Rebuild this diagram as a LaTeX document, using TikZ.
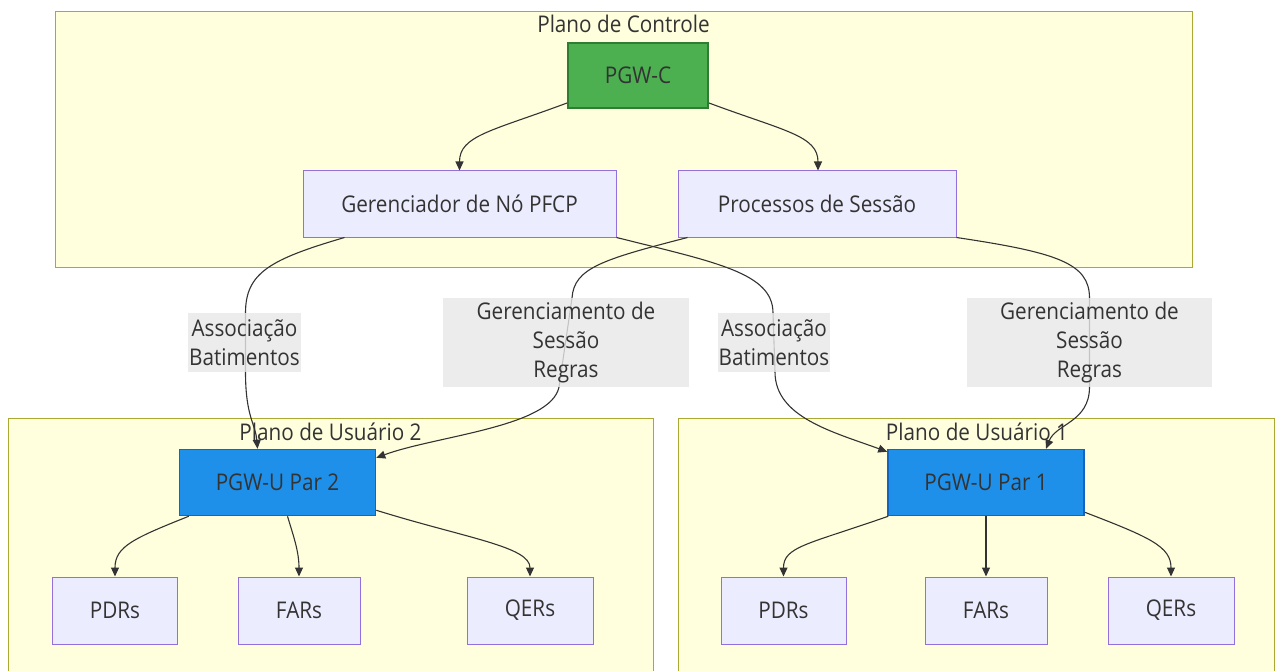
\documentclass[tikz,border=0pt]{standalone}
\usepackage{fontspec}
\setmainfont{Open Sans}[FakeStretch=0.9]
\usetikzlibrary{arrows.meta,calc}
\definecolor{clfill}{HTML}{FFFFDE}
\definecolor{cldraw}{HTML}{AAAA33}
\definecolor{ndfill}{HTML}{ECECFF}
\definecolor{nddraw}{HTML}{9370DB}
\definecolor{txt}{HTML}{333333}
\definecolor{lbl}{HTML}{E8E8E8}
\definecolor{gfill}{HTML}{4CAF50}
\definecolor{gdraw}{HTML}{2E7D32}
\definecolor{bfill}{HTML}{1E90EA}
\definecolor{bdraw}{HTML}{1565C0}
\begin{document}
\begin{tikzpicture}[x=1pt,y=-1pt,
  every node/.style={font=\fontsize{23}{29.3}\selectfont, text=txt, inner sep=0pt},
  cluster/.style={draw=cldraw, fill=clfill, line width=1pt},
  nd/.style={draw=nddraw, fill=ndfill, line width=1pt, minimum height=66pt},
  gnode/.style={draw=gdraw, fill=gfill, line width=2pt, minimum width=140pt, minimum height=65pt},
  bnode/.style={draw=bdraw, fill=bfill, line width=1.5pt, minimum width=196pt, minimum height=66pt},
  elabel/.style={fill=lbl, fill opacity=0.8, text opacity=1, align=center},
  edge/.style={draw=txt, line width=1.1pt, -{Triangle[length=9pt,width=8pt]}}
]
\useasboundingbox (0,0) rectangle (1276,671);
\fill[white] (0,0) rectangle (1276,671);

% clusters
\draw[cluster] (55,12) rectangle (1192,267);
\draw[cluster] (8,418) rectangle (653,673);
\draw[cluster] (678,418) rectangle (1274,673);
\node (tc) at (623.5,24) {Plano de Controle};
\node (tu2) at (330.5,432) {Plano de Usuário 2};
\node (tu1) at (977,432) {Plano de Usuário 1};

% nodes
\node[gnode] (pgwc) at (638,75.5) {PGW-C};
\node[nd, minimum width=313pt] (ger) at (459.5,204) {Gerenciador de Nó PFCP};
\node[nd, minimum width=278pt] (proc) at (817,204) {Processos de Sessão};
\node[bnode] (u2) at (277.5,482.5) {PGW-U Par 2};
\node[bnode] (u1) at (986,482.5) {PGW-U Par 1};
\node[nd, minimum width=125pt, minimum height=67pt] (pdr2) at (115,610.5) {PDRs};
\node[nd, minimum width=122pt, minimum height=67pt] (far2) at (299,610.5) {FARs};
\node[nd, minimum width=126pt, minimum height=67pt] (qer2) at (530,610.5) {QERs};
\node[nd, minimum width=125pt, minimum height=67pt] (pdr1) at (783.5,610.5) {PDRs};
\node[nd, minimum width=122pt, minimum height=67pt] (far1) at (986,610.5) {FARs};
\node[nd, minimum width=126pt, minimum height=67pt] (qer1) at (1171,610.5) {QERs};

% edge label positions
\path (244.5,342.5) coordinate (al2c) (566,342.5) coordinate (gl2c)
      (774,342.5) coordinate (ar1c) (1089.5,342.5) coordinate (gr1c);

% edges
\draw[edge] ($(pgwc.south west)+(0,-6)$) .. controls +(-75,28) and +(0,-35) .. (ger.north);
\draw[edge] ($(pgwc.south east)+(0,-6)$) .. controls +(75,28) and +(0,-35) .. ($(proc.north)+(1,0)$);
\draw[edge] ($(ger.south west)+(42,0)$) .. controls +(-75,22) and +(0,-40) .. ($(al2c)+(1,-29.5)$)
   -- ($(al2c)+(1,29.5)$) .. controls +(0,45) and +(-2,-25) .. ($(u2.north)+(-20,0)$);
\draw[edge] ($(proc.south west)+(10,0)$) .. controls +(-85,22) and +(2,-30) .. ($(gl2c)+(6,-44.5)$)
   -- ($(gl2c)+(-7,44.5)$) .. controls +(-8,40) and +(60,-22) .. ($(u2.north east)+(0,9)$);
\draw[edge] (ger.south east) .. controls +(100,25) and +(0,-40) .. ($(ar1c)+(-1,-29.5)$)
   -- ($(ar1c)+(1,29.5)$) .. controls +(0,45) and +(-55,-20) .. ($(u1.north west)+(0,3)$);
\draw[edge] (proc.south east) .. controls +(100,15) and +(0,-35) .. ($(gr1c)+(0,-44.5)$)
   -- ($(gr1c)+(0,44.5)$) .. controls +(0,35) and +(10,-25) .. ($(u1.north)+(60,0)$);
\draw[edge] ($(u2.south west)+(10,0)$) .. controls +(-55,22) and +(0,-30) .. (pdr2.north);
\draw[edge] ($(u2.south)+(10,0)$) .. controls +(6,20) and +(0,-25) .. (far2.north);
\draw[edge] ($(u2.south east)+(0,-6)$) .. controls +(90,28) and +(0,-30) .. (qer2.north);
\draw[edge] ($(u1.south west)+(1,0)$) .. controls +(-80,28) and +(0,-30) .. (pdr1.north);
\draw[edge] (u1.south) -- (far1.north);
\draw[edge] ($(u1.south east)+(0,-4)$) .. controls +(65,25) and +(0,-30) .. (qer1.north);

% edge labels
\node[elabel, minimum width=113pt, minimum height=59pt] (al2) at (al2c) {Associação\\Batimentos};
\node[elabel, minimum width=246pt, minimum height=89pt] (gl2) at (gl2c) {Gerenciamento de\\Sessão\\Regras};
\node[elabel, minimum width=112pt, minimum height=59pt] (ar1) at (ar1c) {Associação\\Batimentos};
\node[elabel, minimum width=245pt, minimum height=89pt] (gr1) at (gr1c) {Gerenciamento de\\Sessão\\Regras};
\end{tikzpicture}
\end{document}
